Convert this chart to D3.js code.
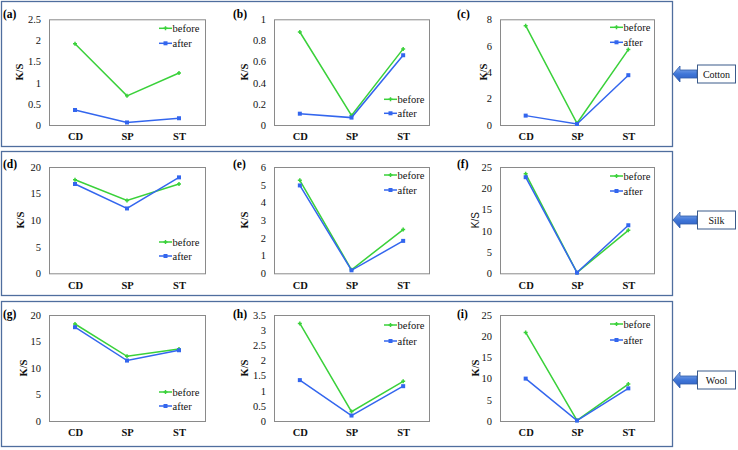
<!DOCTYPE html>
<html><head><meta charset="utf-8">
<script src="https://cdn.jsdelivr.net/npm/d3@7"></script>
<style>body{margin:0;background:#fff}svg{display:block}</style>
</head><body>
<svg id="c" width="738" height="450" font-family='"Liberation Serif"'></svg>
<script>
// ---- data ----
const categories = ["CD", "SP", "ST"];
const panelLabels = ["(a)", "(b)", "(c)", "(d)", "(e)", "(f)", "(g)", "(h)", "(i)"];
const fabrics = ["Cotton", "Silk", "Wool"];
const seriesNames = ["before", "after"];
const beforeValues = [
  [1.92, 0.69, 1.23], [0.88, 0.09, 0.72], [7.52, 0.13, 5.71],
  [17.6, 13.7, 16.8], [5.25, 0.20, 2.47], [23.4, 0.15, 10.1],
  [18.3, 12.2, 13.6], [3.22, 0.31, 1.31], [20.9, 0.15, 8.7]
];
const afterValues = [
  [0.355, 0.06, 0.16], [0.107, 0.07, 0.66], [0.71, 0.08, 3.77],
  [16.8, 12.2, 18.05], [4.96, 0.17, 1.83], [22.6, 0.15, 11.3],
  [17.7, 11.4, 13.35], [1.35, 0.18, 1.15], [10.0, 0.10, 7.7]
];
const yMax = [2.5, 1, 8, 20, 6, 25, 20, 3.5, 25];
const yStep = [0.5, 0.2, 2, 5, 1, 5, 5, 0.5, 5];
const yTickLabels = yMax.map((m, i) => d3.range(0, m + yStep[i] / 2, yStep[i]));

// ---- layout ----
const SERIF = '"Liberation Serif"';
const SANS = '"Liberation Sans"';
const svg = d3.select("#c");
const green = "#3ad13a", blue = "#3366ee";
const colX = [[49, 205], [274, 429], [500, 654]];
const rowY = [[19.3, 125], [167, 273.3], [315, 421]];
const rowBox = [[1, 146], [151, 295], [301, 446]];
const ksX = [19, 244, 483, 20, 244, 475, 23, 244, 475];
const panelLabelX = [3, 233, 457];
const legendPos = [[9,24],[80,94],[8,23],[75,89],[8,23],[9,24],[77,91],[10,26],[9,25]];
const fabricY = [74, 220, 380];

rowBox.forEach(r => {
  svg.append("rect").attr("x", 1.5).attr("y", r[0] + 0.5).attr("width", 671).attr("height", r[1] - r[0])
    .attr("fill", "none").attr("stroke", "#4f6e9e").attr("stroke-width", 1.3);
});

for (let p = 0; p < 9; p++) {
  const row = Math.floor(p / 3), col = p % 3;
  const [x0, x1] = colX[col], [y0, y1] = rowY[row];
  const x = d3.scalePoint().domain(categories).range([x0, x1]).padding(0.5);
  const y = d3.scaleLinear().domain([0, yMax[p]]).range([y1, y0]);
  const g = svg.append("g");

  g.append("rect").attr("x", x0 + 0.5).attr("y", y0 + 0.5).attr("width", x1 - x0).attr("height", y1 - y0)
    .attr("fill", "none").attr("stroke", "#8a8a8a").attr("stroke-width", 1);

  const ya = g.append("g").attr("transform", `translate(${x0},0)`)
    .call(d3.axisLeft(y).tickValues(yTickLabels[p]).tickSize(0).tickPadding(8)
      .tickFormat(d => String(+d.toFixed(2))));
  ya.attr("font-family", SERIF);
  ya.select(".domain").remove();
  ya.selectAll("text").attr("font-family", SERIF).attr("font-size", 10.5).attr("fill", "#111");

  const xa = g.append("g").attr("transform", `translate(0,${y1})`)
    .call(d3.axisBottom(x).tickSize(0).tickPadding(8));
  xa.attr("font-family", SERIF);
  xa.select(".domain").remove();
  xa.selectAll("text").attr("font-family", SERIF).attr("font-size", 10.5).attr("font-weight", "bold").attr("fill", "#111");

  const ks = g.append("text").attr("transform", `translate(${ksX[p]},${(y0 + y1) / 2}) rotate(-90)`)
    .attr("text-anchor", "middle").attr("dy", "0.35em").attr("fill", "#111").text("K/S");
  if (p === 5) ks.attr("font-family", SANS).attr("font-size", 10);
  else ks.attr("font-family", SERIF).attr("font-size", 10.5).attr("font-weight", "bold");

  g.append("text").attr("x", panelLabelX[col]).attr("y", rowBox[row][0] + 17)
    .attr("font-family", SERIF).attr("font-size", 11.5).attr("font-weight", "bold").text(panelLabels[p]);

  const series = [beforeValues[p], afterValues[p]];
  const colors = [green, blue];
  const line = d3.line().x((d, i) => x(categories[i])).y(d => y(d));
  series.forEach((vals, s) => {
    g.append("path").attr("d", line(vals)).attr("fill", "none").attr("stroke", colors[s]).attr("stroke-width", 1.5);
    vals.forEach((v, i) => {
      const cx = x(categories[i]), cy = y(v);
      if (s === 0) {
        g.append("path").attr("d", `M${cx-2},${cy}L${cx+2},${cy}M${cx},${cy-2}L${cx},${cy+2}`)
          .attr("stroke", green).attr("stroke-width", 1.5);
      } else {
        g.append("rect").attr("x", cx - 2).attr("y", cy - 2).attr("width", 4).attr("height", 4).attr("fill", blue);
      }
    });
    const ly = y0 + legendPos[p][s];
    const lx = x0 + 110;
    g.append("line").attr("x1", lx).attr("x2", lx + 13).attr("y1", ly).attr("y2", ly)
      .attr("stroke", colors[s]).attr("stroke-width", 1.5);
    if (s === 0) {
      g.append("path").attr("d", `M${lx+4.5},${ly}L${lx+8.5},${ly}M${lx+6.5},${ly-2}L${lx+6.5},${ly+2}`)
        .attr("stroke", green).attr("stroke-width", 1.5);
    } else {
      g.append("rect").attr("x", lx + 4.5).attr("y", ly - 2).attr("width", 4).attr("height", 4).attr("fill", blue);
    }
    g.append("text").attr("x", lx + 13.5).attr("y", ly).attr("dy", "0.35em")
      .attr("font-family", SERIF).attr("font-size", 10.5).attr("fill", "#111")
      .text(seriesNames[s]);
  });
}

const defs = svg.append("defs");
const grad = defs.append("linearGradient").attr("id", "ag").attr("x1", 0).attr("y1", 0).attr("x2", 0).attr("y2", 1);
grad.append("stop").attr("offset", "0%").attr("stop-color", "#8fb3ef");
grad.append("stop").attr("offset", "50%").attr("stop-color", "#3f76d8");
grad.append("stop").attr("offset", "100%").attr("stop-color", "#2c5cbf");
fabrics.forEach((f, i) => {
  const cy = fabricY[i];
  svg.append("path")
    .attr("d", `M673,${cy} L680,${cy-8} L680,${cy-4} L697,${cy-4} L697,${cy+4} L680,${cy+4} L680,${cy+8} Z`)
    .attr("fill", "url(#ag)").attr("stroke", "#2f5aa8").attr("stroke-width", 0.8);
  svg.append("rect").attr("x", 697.5).attr("y", cy - 9).attr("width", 38).attr("height", 18)
    .attr("fill", "#fff").attr("stroke", "#3a5a8a").attr("stroke-width", 1);
  svg.append("text").attr("x", 716.5).attr("y", cy).attr("dy", "0.35em").attr("text-anchor", "middle")
    .attr("font-family", SERIF).attr("font-size", 10).attr("fill", "#111").text(f);
});
</script>
</body></html>
